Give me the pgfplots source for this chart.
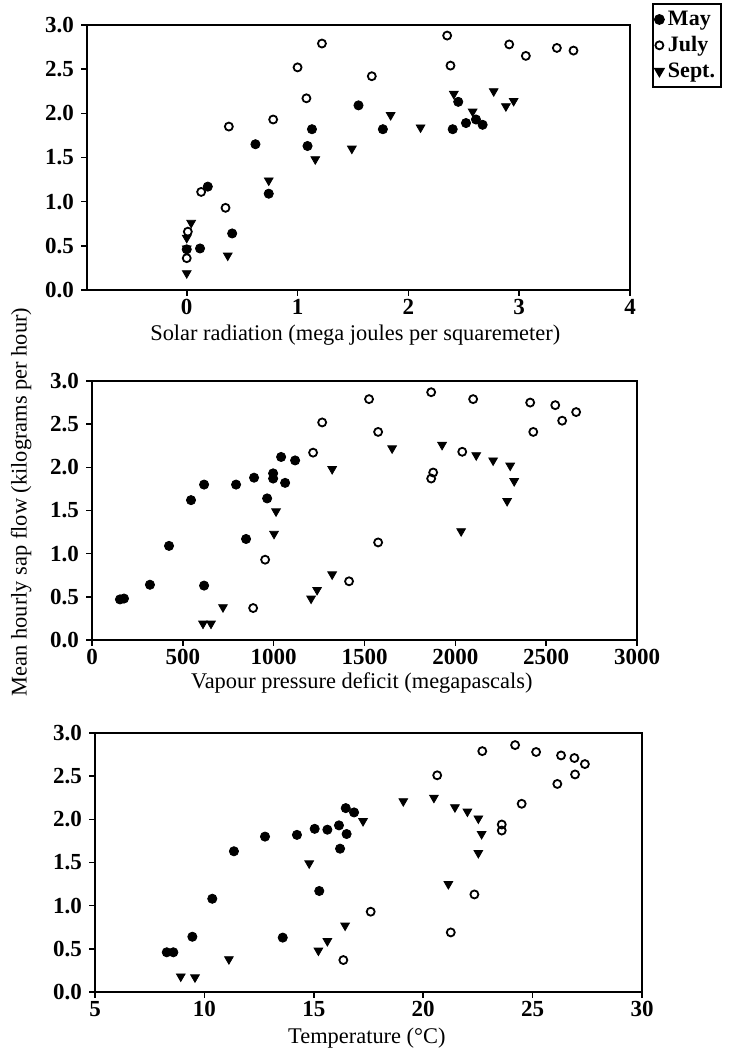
\documentclass[border=0pt]{standalone}
\usepackage{fontspec}
\setmainfont{Liberation Serif}
\usepackage{pgfplots}
\pgfplotsset{compat=1.18}

\pgfplotsset{
  sapaxis/.style={
    scale only axis,
    anchor=south west,
    ymin=0, ymax=3,
    ytick={0,0.5,1,1.5,2,2.5,3},
    yticklabel style={/pgf/number format/.cd, fixed, fixed zerofill, precision=1},
    /pgf/number format/assume math mode=true,
    tick label style={font=\bfseries\fontsize{11.5}{13}\selectfont},
    xticklabel style={inner ysep=1.5pt},
    label style={font=\fontsize{11.2}{13}\selectfont},
    axis line style={line width=1pt},
    tick style={line width=0.8pt, black},
    major tick length=3pt,
    tick align=outside,
    xtick pos=left, ytick pos=left,
    clip=false,
  },
  may/.style={only marks, mark=*, mark size=2.3pt, black},
  july/.style={only marks, mark=o, mark size=2.0pt, mark options={line width=0.9pt}, black},
  sept/.style={only marks, mark=triangle*, mark size=2.5pt, mark options={rotate=180}, black},
}

\begin{document}
\begin{tikzpicture}
\useasboundingbox (0,0) rectangle (365pt,526pt);

% solar radiation
\begin{axis}[sapaxis,
  at={(43.5pt,381pt)}, width=271.5pt, height=132.5pt,
  xmin=-0.9, xmax=4, xtick={0,1,2,3,4},
  xlabel={Solar radiation (mega joules per squaremeter)},
  xlabel style={at={(axis description cs:0.494,-0.17)}, anchor=center},
  legend style={at={(1.0405,1.083)}, anchor=north west, draw=black,
    line width=0.8pt, font=\bfseries\fontsize{11}{12.5}\selectfont,
    inner xsep=1pt, inner ysep=1.5pt, cells={anchor=west}},
  legend image code/.code={\draw[#1] plot coordinates {(0.08cm,0cm)};},
]
\addplot[may] coordinates {
  (0.62,1.65)(1.13,1.82)(1.09,1.63)(0.74,1.09)(0.19,1.17)(0.41,0.64)
  (0.12,0.47)(0.00,0.46)(1.55,2.09)(1.77,1.82)(2.40,1.82)(2.45,2.13)
  (2.52,1.89)(2.61,1.93)(2.67,1.87)
};
\addplot[july] coordinates {
  (1.22,2.79)(1.00,2.52)(1.08,2.17)(0.78,1.93)(0.38,1.85)(0.13,1.11)
  (0.35,0.93)(0.01,0.66)(0.00,0.36)(1.67,2.42)(2.35,2.88)(2.38,2.54)
  (2.91,2.78)(3.06,2.65)(3.34,2.74)(3.49,2.71)
};
\addplot[sept] coordinates {
  (0.04,0.76)(0.00,0.59)(0.00,0.47)(0.00,0.19)(0.37,0.39)(0.74,1.24)
  (1.16,1.48)(1.49,1.60)(1.84,1.98)(2.11,1.84)(2.41,2.22)(2.58,2.02)
  (2.77,2.25)(2.88,2.08)(2.95,2.14)
};
\legend{May, July, Sept.}
\end{axis}

% vapour pressure deficit
\begin{axis}[sapaxis,
  at={(46pt,206pt)}, width=272.5pt, height=129.5pt,
  xmin=0, xmax=3000, xtick={0,500,1000,1500,2000,2500,3000},
  xticklabel style={/pgf/number format/1000 sep={}},
  xlabel={Vapour pressure deficit (megapascals)},
  xlabel style={at={(axis description cs:0.495,-0.165)}, anchor=center},
  ylabel={Mean hourly sap flow (kilograms per hour)},
  ylabel style={at={(axis description cs:-0.13,0.533)}, anchor=center},
]
\addplot[may] coordinates {
  (154,0.47)(176,0.48)(319,0.64)(424,1.09)(545,1.62)(617,1.80)(617,0.63)
  (793,1.80)(848,1.17)(892,1.88)(964,1.64)(997,1.93)(997,1.87)(1063,1.82)
  (1041,2.12)(1118,2.08)
};
\addplot[july] coordinates {
  (887,0.37)(953,0.93)(1267,2.52)(1217,2.17)(1415,0.68)(1525,2.79)
  (1575,2.41)(1575,1.13)(1867,2.87)(2098,2.79)(1867,1.87)(1878,1.94)
  (2038,2.18)(2412,2.75)(2429,2.41)(2550,2.72)(2588,2.54)(2665,2.64)
};
\addplot[sept] coordinates {
  (611,0.19)(655,0.19)(721,0.38)(1013,1.49)(1002,1.23)(1206,0.48)
  (1239,0.58)(1322,0.76)(1322,1.98)(1652,2.22)(1927,2.26)(2115,2.14)
  (2208,2.08)(2302,2.02)(2324,1.84)(2285,1.61)(2032,1.26)
};
\end{axis}

% temperature
\begin{axis}[sapaxis,
  at={(47.5pt,30pt)}, width=273.5pt, height=129.5pt,
  xmin=5, xmax=30, xtick={5,10,15,20,25,30},
  xlabel={Temperature (°C)},
  xlabel style={at={(axis description cs:0.497,-0.178)}, anchor=center},
]
\addplot[may] coordinates {
  (8.28,0.46)(8.58,0.46)(9.45,0.64)(10.36,1.08)(11.35,1.63)(12.77,1.80)
  (13.58,0.63)(14.23,1.82)(15.04,1.89)(15.25,1.17)(15.62,1.88)(16.15,1.93)
  (16.20,1.66)(16.50,1.83)(16.46,2.13)(16.84,2.08)
};
\addplot[july] coordinates {
  (16.35,0.37)(17.60,0.93)(22.70,2.79)(24.20,2.86)(25.16,2.78)(26.30,2.74)
  (26.91,2.71)(27.39,2.64)(26.94,2.52)(26.13,2.41)(20.64,2.51)(24.50,2.18)
  (23.59,1.94)(23.59,1.87)(22.34,1.13)(21.26,0.69)
};
\addplot[sept] coordinates {
  (8.92,0.18)(9.57,0.17)(11.12,0.38)(14.79,1.49)(15.21,0.48)(15.62,0.59)
  (16.43,0.77)(17.25,1.98)(19.09,2.21)(20.49,2.25)(21.45,2.14)(22.02,2.09)
  (22.52,2.01)(22.67,1.83)(22.52,1.61)(21.15,1.25)
};
\end{axis}
\end{tikzpicture}
\end{document}
